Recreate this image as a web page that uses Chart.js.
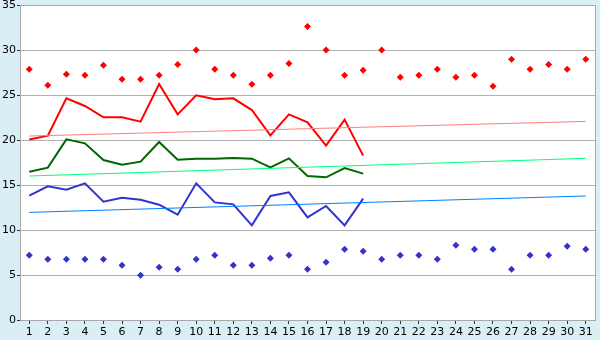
<!DOCTYPE html>
<html>
<head>
<meta charset="utf-8">
<script src="https://cdn.jsdelivr.net/npm/chart.js@4/dist/chart.umd.min.js"></script>
<style>
  html, body { margin: 0; padding: 0; background: #d9eef5; }
  #wrap { width: 600px; height: 340px; }
</style>
</head>
<body>
<div id="wrap"><canvas id="chart"></canvas></div>
<script>
const days = Array.from({ length: 31 }, (_, i) => String(i + 1));

const maxPoints = [27.85, 26.07, 27.3, 27.2, 28.3, 26.74, 26.74, 27.2, 28.4, 30.0,
  27.85, 27.2, 26.19, 27.2, 28.5, 32.6, 30.0, 27.2, 27.74, 30.0,
  26.96, 27.2, 27.85, 26.96, 27.2, 25.96, 28.96, 27.85, 28.4, 27.85, 28.96];
const minPoints = [7.19, 6.74, 6.74, 6.74, 6.74, 6.07, 4.96, 5.85, 5.63, 6.74,
  7.19, 6.07, 6.07, 6.85, 7.19, 5.63, 6.41, 7.85, 7.63, 6.74,
  7.19, 7.19, 6.74, 8.3, 7.85, 7.85, 5.63, 7.19, 7.19, 8.19, 7.85];
const maxLine = [20.05, 20.48, 24.63, 23.78, 22.52, 22.52, 22.04, 26.22, 22.85, 24.96,
  24.52, 24.63, 23.33, 20.52, 22.85, 21.96, 19.37, 22.26, 18.26];
const meanLine = [16.48, 16.93, 20.07, 19.63, 17.78, 17.26, 17.59, 19.78, 17.81, 17.93,
  17.93, 18.0, 17.93, 16.96, 17.96, 16.0, 15.85, 16.89, 16.26];
const minLine = [13.81, 14.85, 14.48, 15.19, 13.15, 13.59, 13.37, 12.81, 11.7, 15.19,
  13.07, 12.85, 10.52, 13.78, 14.19, 11.41, 12.67, 10.52, 13.48];
// trend lines: value at day 1 and day 31
const maxTrend = [20.44, 22.07];
const meanTrend = [16.0, 17.96];
const minTrend = [11.96, 13.78];

const yTicks = [0, 5, 10, 15, 20, 25, 30, 35];

function trend(ends) {
  return [{ x: days[0], y: ends[0] }, { x: days[days.length - 1], y: ends[1] }];
}

const plotArea = {
  id: "plotArea",
  beforeDraw(chart) {
    const { ctx, chartArea: a } = chart;
    ctx.save();
    ctx.fillStyle = "#ffffff";
    ctx.fillRect(a.left, a.top, a.right - a.left, a.bottom - a.top);
    ctx.restore();
  },
  afterDraw(chart) {
    const { ctx, chartArea: a } = chart;
    ctx.save();
    ctx.strokeStyle = "#a8a8a8";
    ctx.lineWidth = 1;
    ctx.strokeRect(Math.round(a.left) + 0.5, Math.round(a.top) + 0.5,
      Math.round(a.right - a.left), Math.round(a.bottom - a.top));
    ctx.restore();
  },
};

const lineDs = (data, color, width) => ({
  type: "line",
  data: data,
  borderColor: color,
  backgroundColor: color,
  borderWidth: width,
  pointRadius: 0,
  fill: false,
  tension: 0,
});

const config = {
  type: "line",
  data: {
    labels: days,
    datasets: [
      lineDs(trend(maxTrend), "#ff8080", 1),
      lineDs(trend(meanTrend), "#00ff80", 1),
      lineDs(trend(minTrend), "#0080ff", 1),
      lineDs(maxLine, "#ff0000", 2),
      lineDs(meanLine, "#006600", 2),
      lineDs(minLine, "#3333cc", 2),
      {
        data: maxPoints,
        showLine: false,
        pointStyle: "rectRot",
        pointRadius: 3.5,
        pointBackgroundColor: "#ff0000",
        pointBorderColor: "#ff0000",
        pointBorderWidth: 0,
      },
      {
        data: minPoints,
        showLine: false,
        pointStyle: "rectRot",
        pointRadius: 3.5,
        pointBackgroundColor: "#3333cc",
        pointBorderColor: "#3333cc",
        pointBorderWidth: 0,
      },
    ],
  },
  options: {
    responsive: true,
    maintainAspectRatio: false,
    animation: false,
    layout: { padding: { top: 5, right: 5, left: 0, bottom: 0 } },
    plugins: { legend: { display: false }, tooltip: { enabled: false } },
    scales: {
      x: {
        offset: true,
        grid: { drawOnChartArea: false, drawTicks: true, tickLength: 4, color: "#333333" },
        border: { color: "#a8a8a8" },
        ticks: {
          color: "#000000",
          font: { family: "DejaVu Sans", size: 11 },
          padding: 2,
          maxRotation: 0,
          autoSkip: false,
        },
        afterFit(scale) {
          scale.height = 20;
          scale.paddingLeft = 0;
          scale.paddingRight = 0;
        },
      },
      y: {
        min: 0,
        max: 35,
        afterBuildTicks(scale) { scale.ticks = yTicks.map(v => ({ value: v })); },
        grid: { color: "#b0b0b0", tickLength: 3, tickColor: "#333333" },
        border: { color: "#a8a8a8" },
        ticks: {
          color: "#000000",
          font: { family: "DejaVu Sans", size: 11 },
          padding: 1,
        },
        afterFit(scale) {
          scale.width = 20;
          scale.paddingTop = 0;
          scale.paddingBottom = 0;
        },
      },
    },
  },
  plugins: [plotArea],
};

new Chart(document.getElementById("chart"), config);
</script>
</body>
</html>
